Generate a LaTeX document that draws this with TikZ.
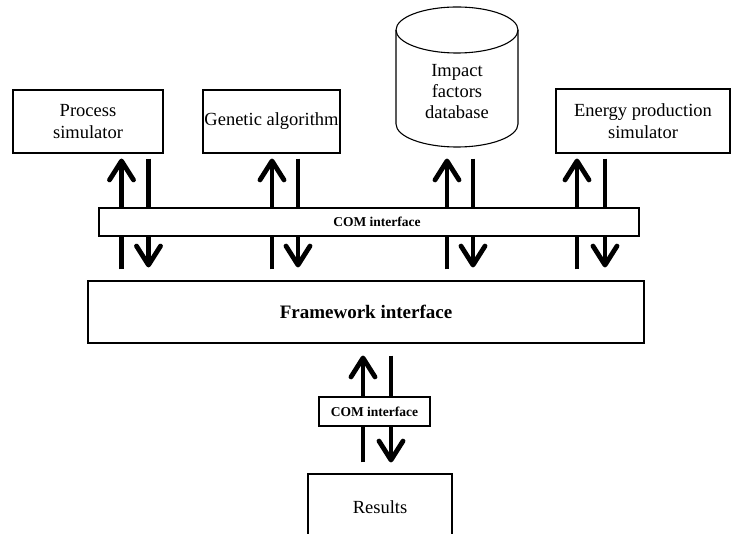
\documentclass[tikz,border=0pt]{standalone}
\usepackage{fontspec}
\setmainfont{Liberation Serif}
\usetikzlibrary{arrows.meta}
\tikzset{
  box/.style  ={draw, line width=1.1pt, fill=white, align=center,
                font=\fontsize{18.5}{22}\selectfont, inner sep=0pt},
  bar/.style  ={draw, line width=1.1pt, fill=white, inner sep=0pt,
                font=\fontsize{13.5}{16}\selectfont\bfseries},
  dbtxt/.style={align=center, font=\fontsize{18.5}{21}\selectfont, inner sep=0pt},
  arr/.style  ={-{Straight Barb[length=19pt,width=24pt,round]}, line width=4.8pt},
}
\begin{document}
\begin{tikzpicture}[x=1pt,y=1pt]
\useasboundingbox (0,0) rectangle (731,533);
\clip (0,0) rectangle (731,533);
\node[box, minimum width=150, minimum height=63] (ps) at (88,411.5) {Process\\simulator};
\node[box, minimum width=137, minimum height=63] (ga) at (271.5,411.5) {Genetic algorithm};
\node[box, minimum width=174, minimum height=64] (eps) at (643,412) {Energy production\\simulator};
% database cylinder
\draw[line width=1.1pt, fill=white] (396,409) -- (396,503)
   arc[start angle=180, end angle=0, x radius=61, y radius=23] -- (518,409)
   arc[start angle=0, end angle=-180, x radius=61, y radius=23] -- cycle;
\draw[line width=1.1pt] (396,503) arc[start angle=180, end angle=360, x radius=61, y radius=23];
\node[dbtxt] (ifd) at (457,441) {Impact\\factors\\database};
\node[box, font=\fontsize{19}{22}\selectfont\bfseries, minimum width=556, minimum height=62] (fw) at (366,221) {Framework interface};
\node[box, minimum width=144, minimum height=66] (res) at (380,26) {Results};
\foreach \xu/\xd in {121.5/148.5, 272/298, 447/473, 577/605}{
  \draw[arr, shorten <=11pt, shorten >=5pt] (\xu,0 |- fw.north) -- (\xu,0 |- ps.south);
  \draw[arr, shorten <=5pt, shorten >=13pt] (\xd,0 |- ps.south) -- (\xd,0 |- fw.north);
}
\draw[arr, shorten <=11pt, shorten >=12pt] (363,0 |- res.north) -- (363,0 |- fw.south);
\draw[arr, shorten <=12pt, shorten >=11pt] (391,0 |- fw.south) -- (391,0 |- res.north);
\node[bar, minimum width=540, minimum height=28] (cb) at (369,311) {};
\node[bar, draw=none, fill=none] (cbl) at (377,311) {COM interface};
\node[bar, minimum width=111, minimum height=29] (cs) at (374.5,121.5) {COM interface};
\end{tikzpicture}
\end{document}
